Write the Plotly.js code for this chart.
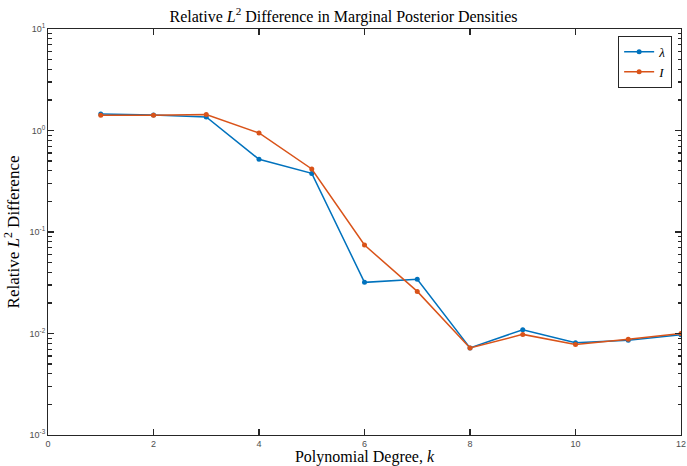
<!DOCTYPE html>
<html>
<head>
<meta charset="utf-8">
<script src="https://cdn.plot.ly/plotly-3.0.1.min.js"></script>
<style>html,body{margin:0;padding:0;background:#fff;}#chart{width:687px;height:466px;}</style>
</head>
<body>
<div id="chart"></div>
<script>
const degrees = [1, 2, 3, 4, 5, 6, 7, 8, 9, 10, 11, 12];
const lambdaDiff = [1.45, 1.42, 1.36, 0.52, 0.378, 0.0319, 0.0342, 0.0072, 0.0109, 0.0081, 0.0086, 0.0097];
const iDiff = [1.41, 1.41, 1.44, 0.945, 0.418, 0.0744, 0.026, 0.0072, 0.0098, 0.0078, 0.0088, 0.0100];
const seriesNames = ['<i>λ</i>', '<i>I</i>'];
const yTickVals = [0.001, 0.01, 0.1, 1, 10];
const yTickText = ['10<sup>-3</sup>', '10<sup>-2</sup>', '10<sup>-1</sup>', '10<sup>0</sup>', '10<sup>1</sup>'];
const xTickVals = [0, 2, 4, 6, 8, 10, 12];

// minor tick positions on the log axis (2..9 within each decade)
const yMinor = [];
for (let e = -3; e < 1; e++) for (let m = 2; m <= 9; m++) yMinor.push(m * Math.pow(10, e));

const serif = 'Liberation Serif, Times New Roman, serif';
const sans = 'Liberation Sans, Arial, sans-serif';

const traces = [
  {x: degrees, y: lambdaDiff, name: seriesNames[0], mode: 'lines+markers',
   line: {color: '#0072BD', width: 1.5}, marker: {color: '#0072BD', size: 5}},
  {x: degrees, y: iDiff, name: seriesNames[1], mode: 'lines+markers',
   line: {color: '#D95319', width: 1.5}, marker: {color: '#D95319', size: 5}},
  // invisible helper trace so the minor-tick overlay axis is drawn
  {x: [degrees[0]], y: [lambdaDiff[0]], yaxis: 'y2', mode: 'markers', marker: {opacity: 0},
   showlegend: false, hoverinfo: 'skip'}
];

const axisCommon = {
  showline: true, linecolor: '#262626', linewidth: 1, mirror: 'ticks',
  ticks: 'inside', tickcolor: '#262626', ticklen: 6, tickwidth: 1.2,
  showgrid: false, zeroline: false,
  tickfont: {family: sans, size: 9, color: '#4d4d4d'}
};

const layout = {
  width: 687, height: 466,
  margin: {l: 48, r: 6, t: 29, b: 31},
  paper_bgcolor: '#fff', plot_bgcolor: '#fff',
  title: {text: 'Relative <i>L</i><sup>2</sup> Difference in Marginal Posterior Densities',
    font: {family: serif, size: 16, color: '#000'}, x: 0.5, xanchor: 'center', y: 0.965, yanchor: 'middle'},
  xaxis: Object.assign({}, axisCommon, {
    range: [0, 12], tickvals: xTickVals, ticktext: xTickVals.map(String),
    title: {text: 'Polynomial Degree, <i>k</i>', font: {family: serif, size: 16, color: '#000'}, standoff: 1}
  }),
  yaxis: Object.assign({}, axisCommon, {
    type: 'log', range: [-3, 1], tickvals: yTickVals, ticktext: yTickText,
    title: {text: 'Relative <i>L</i><sup>2</sup> Difference', font: {family: serif, size: 17, color: '#000'}, standoff: 5}
  }),
  yaxis2: {
    type: 'log', range: [-3, 1], overlaying: 'y', side: 'left', anchor: 'x',
    tickmode: 'array', tickvals: yMinor, showticklabels: false,
    ticks: 'inside', ticklen: 3.5, tickwidth: 1.2, tickcolor: '#262626',
    showline: true, linecolor: '#262626', linewidth: 1, mirror: 'ticks', showgrid: false, zeroline: false
  },
  legend: {x: 0.986, y: 0.983, xanchor: 'right', yanchor: 'top',
    bgcolor: '#fff', bordercolor: '#262626', borderwidth: 1,
    font: {family: serif, size: 13, color: '#000'}, tracegroupgap: 0, itemwidth: 30},
  showlegend: true
};

Plotly.newPlot('chart', traces, layout, {displayModeBar: false, staticPlot: true});
</script>
</body>
</html>
